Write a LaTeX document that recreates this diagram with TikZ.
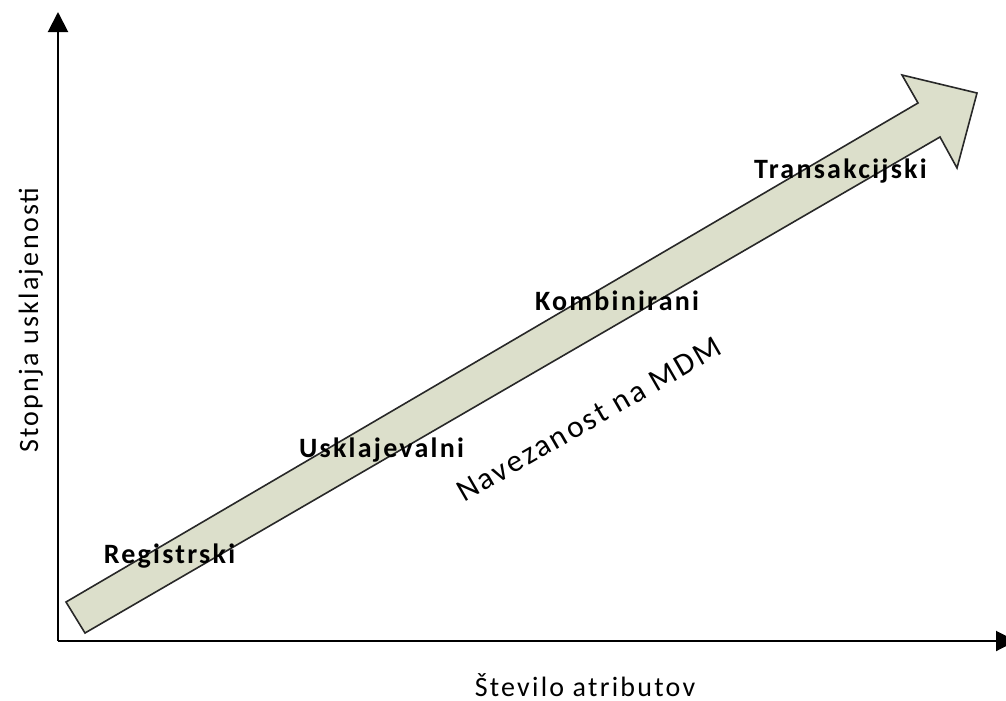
\documentclass[tikz,border=0pt]{standalone}
\usepackage{fontspec}
\setmainfont{Carlito}
\newfontfamily\lblfont{Carlito}[LetterSpace=8]
\usetikzlibrary{arrows.meta}
\definecolor{arrowfill}{RGB}{220,223,203}
\definecolor{arrowedge}{RGB}{40,40,40}
\tikzset{
  axis/.style={line width=1.5pt, draw=black,
    -{Triangle[length=15pt,width=15pt]}},
  bigarrow/.style={fill=arrowfill, draw=arrowedge, line width=1.2pt, line join=miter},
  stage/.style={font=\lblfont\bfseries\fontsize{21}{25}\selectfont, inner sep=0pt, anchor=base},
  axislabel/.style={font=\lblfont\fontsize{21}{25}\selectfont, inner sep=0pt, anchor=base},
  alonglabel/.style={font=\lblfont\fontsize{23.5}{28}\selectfont, inner sep=0pt, anchor=base},
}
\begin{document}
\begin{tikzpicture}[x=0.75pt, y=-0.75pt]
\useasboundingbox (0,0) rectangle (1006,700);

% axes
\coordinate (O) at (58,641);
\coordinate (ytop) at (58,12);
\coordinate (xend) at (1016,641);
\draw[axis] (O) -- (ytop);
\draw[axis] (O) -- (xend);

% rising block arrow
\draw[bigarrow] (66,602) -- (918,103) -- (902,75) -- (977,93)
  -- (957,168) -- (940,137) -- (85,633) -- cycle;

% stage labels
\node[stage] (reg) at (169.5,563) {Registrski};
\node[stage] (usk) at (381.5,457) {Usklajevalni};
\node[stage] (kom) at (617,310) {Kombinirani};
\node[stage] (tra) at (840.5,178) {Transakcijski};

% label along the arrow
\node[alonglabel, rotate=30] (mdm) at (594,428) {Navezanost na MDM};

% axis labels
\node[axislabel] (xlab) at (585,696) {Število atributov};
\node[axislabel, rotate=90] (ylab) at (38,320) {Stopnja usklajenosti};
\end{tikzpicture}
\end{document}
